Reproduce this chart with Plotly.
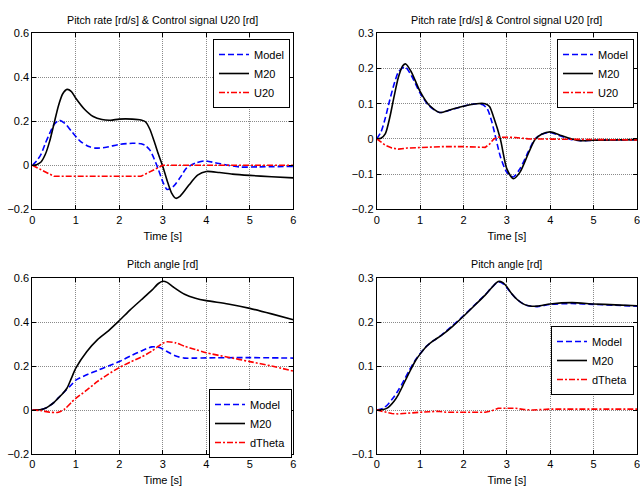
import plotly.graph_objects as go

# ---------------- data ----------------
# Top-left: pitch rate & control signal
tl_model_t = [0, 0.1, 0.2, 0.3, 0.4, 0.5, 0.62, 0.75, 0.9, 1.1, 1.3, 1.45, 1.7, 2.0, 2.3, 2.5, 2.6, 2.7, 2.8, 2.9, 3.0, 3.1, 3.25, 3.4, 3.55, 3.75, 3.95, 4.2, 4.5, 4.8, 5.2, 6.0]
tl_model_v = [0, 0.02, 0.05, 0.1, 0.145, 0.185, 0.205, 0.19, 0.155, 0.11, 0.085, 0.078, 0.082, 0.095, 0.1, 0.098, 0.09, 0.07, 0.03, -0.02, -0.075, -0.11, -0.095, -0.055, -0.012, 0.01, 0.02, 0.012, 0.0, -0.008, -0.007, -0.005]
tl_m20_t = [0, 0.1, 0.2, 0.3, 0.4, 0.5, 0.6, 0.7, 0.8, 0.9, 1.0, 1.2, 1.4, 1.6, 1.8, 2.0, 2.3, 2.5, 2.6, 2.7, 2.8, 2.9, 3.0, 3.1, 3.2, 3.3, 3.4, 3.6, 3.8, 4.0, 4.3, 4.6, 5.0, 5.5, 6.0]
tl_m20_v = [0, 0.003, 0.015, 0.05, 0.11, 0.19, 0.27, 0.325, 0.345, 0.335, 0.305, 0.255, 0.222, 0.208, 0.205, 0.21, 0.21, 0.206, 0.198, 0.165, 0.11, 0.05, -0.005, -0.07, -0.125, -0.15, -0.14, -0.09, -0.045, -0.028, -0.033, -0.04, -0.046, -0.052, -0.057]
tl_u20_t = [0, 0.5, 2.5, 3.0, 6.0]
tl_u20_v = [0, -0.05, -0.05, 0.0, 0.0]

# Top-right
tr_model_t = [0, 0.1, 0.2, 0.3, 0.4, 0.5, 0.65, 0.8, 1.0, 1.2, 1.45, 1.7, 2.0, 2.3, 2.45, 2.55, 2.65, 2.75, 2.85, 3.0, 3.15, 3.3, 3.5, 3.65, 3.8, 4.0, 4.2, 4.5, 4.7, 5.0, 6.0]
tr_model_v = [0, 0.02, 0.06, 0.11, 0.155, 0.19, 0.205, 0.18, 0.13, 0.095, 0.075, 0.082, 0.093, 0.1, 0.097, 0.085, 0.05, 0.0, -0.05, -0.095, -0.108, -0.085, -0.035, 0.0, 0.013, 0.018, 0.01, -0.002, -0.005, -0.004, -0.002]
tr_m20_t = [0, 0.1, 0.2, 0.3, 0.4, 0.5, 0.6, 0.67, 0.8, 1.0, 1.2, 1.45, 1.7, 2.0, 2.3, 2.5, 2.6, 2.7, 2.85, 3.0, 3.15, 3.3, 3.5, 3.65, 3.8, 4.0, 4.2, 4.5, 4.7, 5.0, 6.0]
tr_m20_v = [0, 0.002, 0.015, 0.06, 0.12, 0.175, 0.208, 0.213, 0.19, 0.135, 0.097, 0.075, 0.083, 0.093, 0.1, 0.1, 0.092, 0.06, 0.0, -0.085, -0.113, -0.095, -0.04, -0.002, 0.013, 0.02, 0.012, 0.0, -0.005, -0.004, -0.002]
tr_u20_t = [0, 0.2, 0.35, 0.5, 0.7, 1.0, 1.5, 2.0, 2.4, 2.5, 2.6, 2.7, 2.8, 3.0, 3.2, 3.5, 4.0, 5.0, 6.0]
tr_u20_v = [0, -0.018, -0.026, -0.029, -0.026, -0.024, -0.022, -0.022, -0.022, -0.024, -0.015, 0.0, 0.005, 0.005, 0.004, 0.0, -0.001, -0.003, -0.003]

# Bottom-left: pitch angle
bl_model_t = [0, 0.2, 0.3, 0.4, 0.5, 0.6, 0.75, 0.9, 1.0, 1.25, 1.5, 1.75, 2.0, 2.25, 2.5, 2.75, 2.9, 3.0, 3.15, 3.3, 3.5, 3.75, 4.0, 5.0, 6.0]
bl_model_v = [0, 0.002, 0.008, 0.02, 0.035, 0.055, 0.085, 0.115, 0.136, 0.16, 0.18, 0.2, 0.22, 0.245, 0.268, 0.287, 0.285, 0.277, 0.26, 0.245, 0.236, 0.236, 0.237, 0.238, 0.236]
bl_m20_t = [0, 0.2, 0.3, 0.4, 0.5, 0.6, 0.7, 0.8, 0.9, 1.0, 1.25, 1.5, 1.75, 2.0, 2.25, 2.5, 2.75, 2.9, 3.0, 3.1, 3.25, 3.5, 3.75, 4.0, 4.5, 5.0, 5.5, 6.0]
bl_m20_v = [0, 0.002, 0.008, 0.02, 0.035, 0.055, 0.075, 0.1, 0.145, 0.19, 0.265, 0.32, 0.36, 0.406, 0.455, 0.5, 0.545, 0.575, 0.585, 0.58, 0.558, 0.526, 0.508, 0.497, 0.482, 0.462, 0.437, 0.41]
bl_dth_t = [0, 0.2, 0.4, 0.6, 0.75, 0.9, 1.0, 1.25, 1.5, 1.75, 2.0, 2.25, 2.5, 2.75, 2.9, 3.0, 3.1, 3.3, 3.5, 3.75, 4.0, 4.5, 5.0, 5.5, 6.0]
bl_dth_v = [0, -0.003, -0.01, -0.01, 0.005, 0.035, 0.053, 0.09, 0.13, 0.163, 0.193, 0.218, 0.24, 0.268, 0.29, 0.303, 0.31, 0.305, 0.29, 0.275, 0.26, 0.24, 0.22, 0.2, 0.177]

# Bottom-right
br_t = [0, 0.15, 0.25, 0.4, 0.5, 0.6, 0.75, 0.9, 1.0, 1.15, 1.3, 1.5, 1.75, 2.0, 2.25, 2.5, 2.65, 2.8, 2.9, 3.0, 3.1, 3.25, 3.4, 3.5, 3.7, 4.0, 4.5, 5.0, 5.5, 6.0]
br_model_v = [0, 0.004, 0.012, 0.03, 0.045, 0.062, 0.09, 0.115, 0.128, 0.145, 0.157, 0.171, 0.192, 0.214, 0.238, 0.262, 0.278, 0.291, 0.288, 0.278, 0.265, 0.25, 0.24, 0.237, 0.235, 0.24, 0.242, 0.24, 0.238, 0.236]
br_m20_v = [0, 0.001, 0.005, 0.02, 0.035, 0.055, 0.085, 0.113, 0.127, 0.145, 0.157, 0.17, 0.19, 0.213, 0.237, 0.261, 0.278, 0.292, 0.29, 0.28, 0.266, 0.25, 0.24, 0.237, 0.236, 0.241, 0.244, 0.241, 0.239, 0.237]
br_dth_t = [0, 0.2, 0.35, 0.5, 0.7, 1.0, 1.2, 1.4, 1.6, 2.0, 2.5, 2.65, 2.8, 3.0, 3.2, 3.4, 3.6, 4.0, 5.0, 6.0]
br_dth_v = [0, -0.004, -0.008, -0.009, -0.007, -0.005, -0.004, -0.003, -0.005, -0.005, -0.005, -0.002, 0.004, 0.004, 0.004, 0.001, 0.0, 0.002, 0.002, 0.002]

title_top = "Pitch rate [rd/s] & Control signal U20 [rd]"
title_bot = "Pitch angle [rd]"
xlabel = "Time [s]"

FONT = "Liberation Sans, Arial, sans-serif"
BLUE, BLACK, RED = "#0000ff", "#000000", "#ff0000"
DASH = "6px,3px"
DASHDOT = "6px,2px,2px,2px"

fig = go.Figure()

def add(t, v, name, color, dash, ax, leg, spline=True):
    fig.add_trace(go.Scatter(
        x=t, y=v, name=name, mode="lines",
        line=dict(color=color, dash=dash, width=1.6,
                  shape="spline" if spline else "linear", smoothing=0.7),
        xaxis="x" + ax, yaxis="y" + ax, legend=leg))

add(tl_model_t, tl_model_v, "Model", BLUE, DASH, "", "legend")
add(tl_m20_t, tl_m20_v, "M20", BLACK, "solid", "", "legend")
add(tl_u20_t, tl_u20_v, "U20", RED, DASHDOT, "", "legend", spline=False)

add(tr_model_t, tr_model_v, "Model", BLUE, DASH, "2", "legend2")
add(tr_m20_t, tr_m20_v, "M20", BLACK, "solid", "2", "legend2")
add(tr_u20_t, tr_u20_v, "U20", RED, DASHDOT, "2", "legend2", spline=False)

add(bl_model_t, bl_model_v, "Model", BLUE, DASH, "3", "legend3")
add(bl_m20_t, bl_m20_v, "M20", BLACK, "solid", "3", "legend3")
add(bl_dth_t, bl_dth_v, "dTheta", RED, DASHDOT, "3", "legend3")

add(br_t, br_model_v, "Model", BLUE, DASH, "4", "legend4")
add(br_t, br_m20_v, "M20", BLACK, "solid", "4", "legend4")
add(br_dth_t, br_dth_v, "dTheta", RED, DASHDOT, "4", "legend4", spline=False)

W, H = 640, 486
def px(x): return x / W
def py(y): return 1 - y / H

xl, xr = (32.3, 293.3), (376.7, 637.0)
yt, yb = (33.3, 209.3), (278.0, 454.0)

def xax(dom, anchor):
    return dict(domain=[px(dom[0]), px(dom[1])], range=[0, 6], dtick=1, anchor=anchor,
                showline=True, linecolor="black", linewidth=1, mirror="allticks",
                ticks="inside", ticklen=4, tickcolor="black",
                showgrid=True, gridcolor="#8a8a8a", griddash="1px,1px", gridwidth=1,
                zeroline=False, tickfont=dict(family=FONT, size=11, color="black"),
                ticklabeloverflow="allow",
                title=dict(text=xlabel, font=dict(family=FONT, size=11, color="black"), standoff=7),
                automargin=False)

def yax(dom, rng, dt, anchor):
    return dict(domain=[py(dom[1]), py(dom[0])], range=rng, dtick=dt, anchor=anchor,
                showline=True, linecolor="black", linewidth=1, mirror="allticks",
                ticks="inside", ticklen=4, tickcolor="black",
                showgrid=True, gridcolor="#8a8a8a", griddash="1px,1px", gridwidth=1,
                zeroline=False, tickfont=dict(family=FONT, size=11, color="black"),
                ticklabeloverflow="allow",
                tickformat="~g", automargin=False)

def legend(xright, ytop):
    return dict(x=px(xright), y=py(ytop), xanchor="right", yanchor="top",
                bgcolor="white", bordercolor="black", borderwidth=1,
                font=dict(family=FONT, size=11, color="black"),
                itemwidth=30, tracegroupgap=0)

fig.update_layout(
    width=W, height=H, margin=dict(l=0, r=0, t=0, b=0),
    paper_bgcolor="white", plot_bgcolor="white", showlegend=True,
    xaxis=xax(xl, "y"), yaxis=yax(yt, [-0.2, 0.6], 0.2, "x"),
    xaxis2=xax(xr, "y2"), yaxis2=yax(yt, [-0.2, 0.3], 0.1, "x2"),
    xaxis3=xax(xl, "y3"), yaxis3=yax(yb, [-0.2, 0.6], 0.2, "x3"),
    xaxis4=xax(xr, "y4"), yaxis4=yax(yb, [-0.1, 0.3], 0.1, "x4"),
    legend=legend(290, 39), legend2=legend(634, 39),
    legend3=legend(292, 389), legend4=legend(634, 326),
)

for xc, yc, txt in [((xl[0] + xl[1]) / 2, 20, title_top), ((xr[0] + xr[1]) / 2, 20, title_top),
                    ((xl[0] + xl[1]) / 2, 264, title_bot), ((xr[0] + xr[1]) / 2, 264, title_bot)]:
    fig.add_annotation(x=px(xc), y=py(yc), xref="paper", yref="paper", text=txt,
                       showarrow=False, xanchor="center", yanchor="middle",
                       font=dict(family=FONT, size=10.7, color="black"))

fig.write_html("out.html", config={"displayModeBar": False},
               post_script="document.body.style.margin='0';document.body.style.padding='0';")
